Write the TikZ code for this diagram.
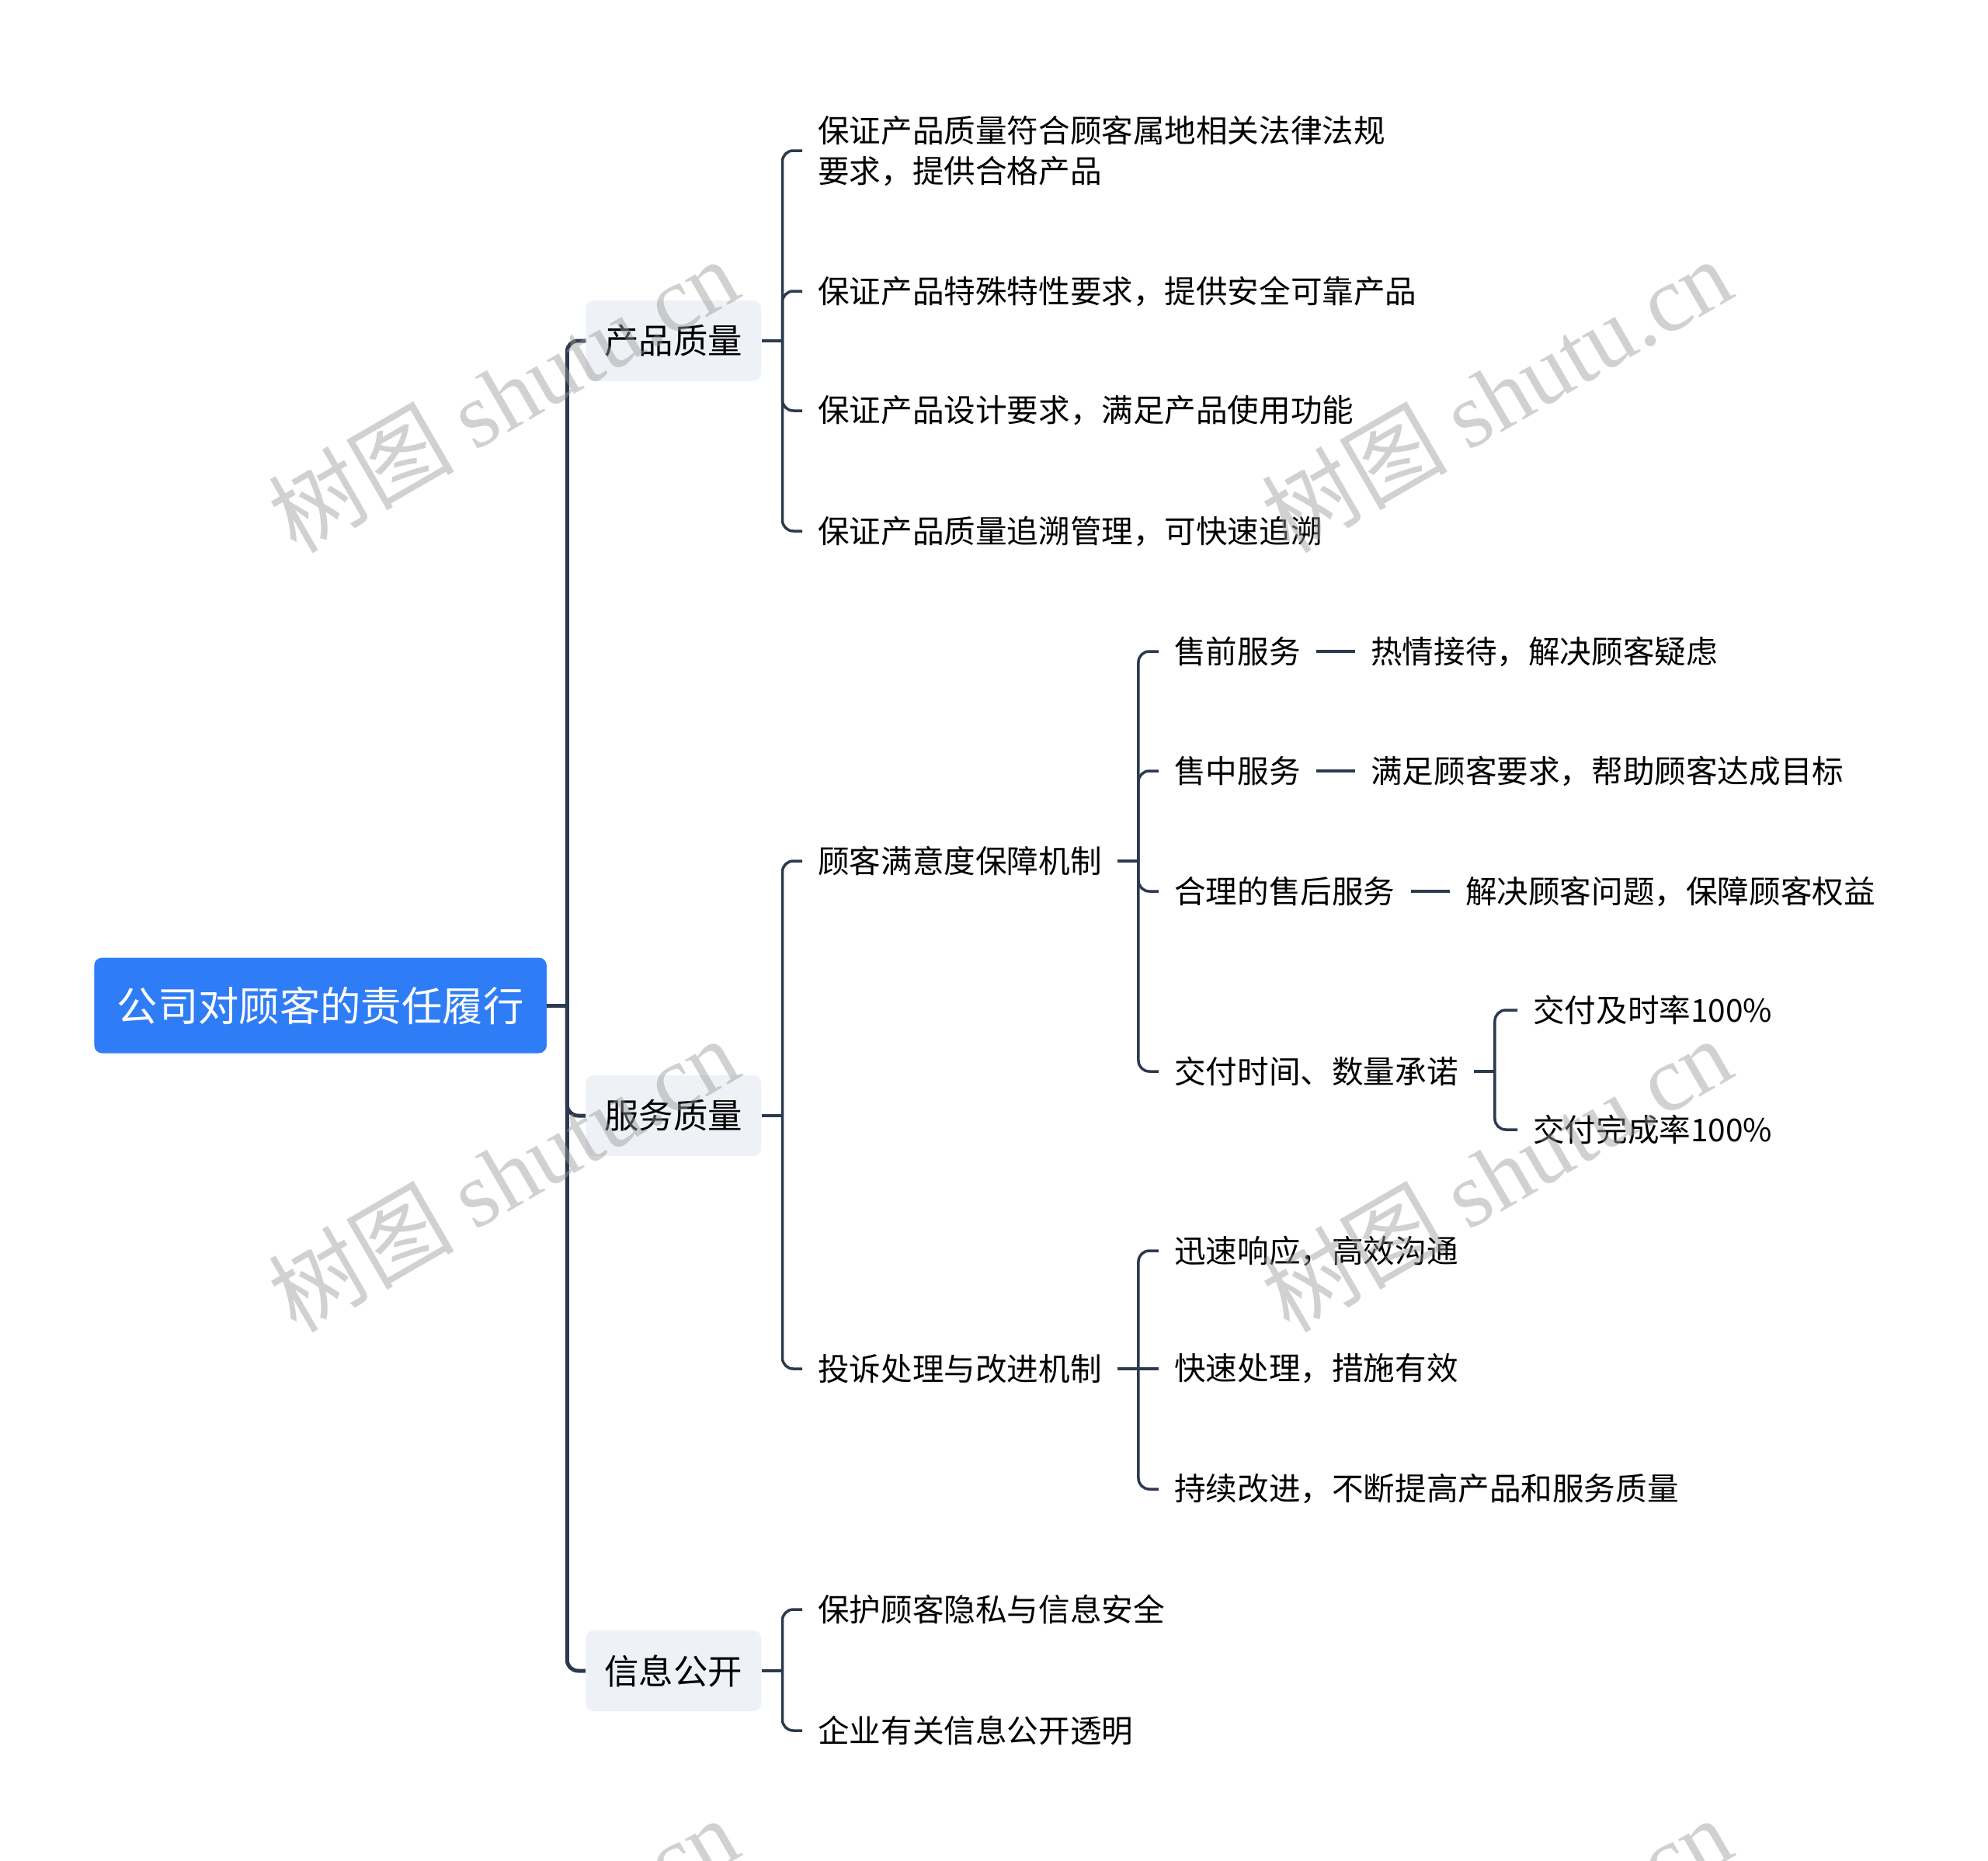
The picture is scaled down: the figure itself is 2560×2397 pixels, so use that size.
\documentclass[tikz,border=0pt]{standalone}
\usepackage{fontspec}
\setmainfont{Noto Sans CJK SC}
\newfontfamily\wmserif{Liberation Serif}
\usetikzlibrary{positioning}
\definecolor{rootblue}{HTML}{2F7DF6}
\definecolor{topicgray}{HTML}{EEF1F6}
\definecolor{linkslate}{HTML}{2C3A4F}

\begin{document}
\begin{tikzpicture}[x=0.02cm,y=-0.02cm,
  root/.style={fill=rootblue,text=white,rounded corners=0.2cm,inner xsep=0.59cm,minimum height=2.46cm,font=\fontsize{29.8}{36}\selectfont},
  topic/.style={fill=topicgray,rounded corners=0.2cm,inner xsep=0.48cm,minimum height=2.08cm,font=\fontsize{25.3}{30}\selectfont},
  leaf/.style={anchor=west,inner xsep=0.4cm,inner ysep=0.1cm,align=left,font=\fontsize{23.1}{29.6}\selectfont},
  trunk/.style={draw=linkslate,line width=0.1cm},
  link/.style={draw=linkslate,line width=0.07cm},
  wm/.style={rotate=30,text=black!40,opacity=0.45,font=\fontsize{68}{68}\selectfont}]
\useasboundingbox (0,0) rectangle (2560,2397);
% root and main topics
\node[root,anchor=west] (root) at (121,1295) {公司对顾客的责任履行};
\node[topic,anchor=west] (pq) at (754,439) {产品质量};
\node[topic,anchor=west] (fw) at (754,1437) {服务质量};
\node[topic,anchor=west] (xx) at (754,2152) {信息公开};
% 产品质量
\node[leaf] (pq1) at (1033,194) {保证产品质量符合顾客属地相关法律法规\\要求，提供合格产品};
\node[leaf] (pq2) at (1033,375) {保证产品特殊特性要求，提供安全可靠产品};
\node[leaf] (pq3) at (1033,529) {保证产品设计要求，满足产品使用功能};
\node[leaf] (pq4) at (1033,684) {保证产品质量追溯管理，可快速追溯};
% 服务质量
\node[leaf] (fw1) at (1033,1109) {顾客满意度保障机制};
\node[leaf] (fw2) at (1033,1763) {投诉处理与改进机制};
\node[leaf] (my1) at (1492,839) {售前服务};
\node[leaf] (my2) at (1492,993) {售中服务};
\node[leaf] (my3) at (1492,1148) {合理的售后服务};
\node[leaf] (my4) at (1492,1380) {交付时间、数量承诺};
\node[leaf,right=1cm of my1] (my1b) {热情接待，解决顾客疑虑};
\node[leaf,right=1cm of my2] (my2b) {满足顾客要求，帮助顾客达成目标};
\node[leaf,right=1cm of my3] (my3b) {解决顾客问题，保障顾客权益};
\node[leaf] (jf1) at (1954,1301) {交付及时率100\%};
\node[leaf] (jf2) at (1954,1455) {交付完成率100\%};
\node[leaf] (ts1) at (1492,1611) {迅速响应，高效沟通};
\node[leaf] (ts2) at (1492,1763) {快速处理，措施有效};
\node[leaf] (ts3) at (1492,1918) {持续改进，不断提高产品和服务质量};
% 信息公开
\node[leaf] (xx1) at (1033,2073) {保护顾客隐私与信息安全};
\node[leaf] (xx2) at (1033,2229) {企业有关信息公开透明};

% connectors
\draw[trunk] (root.east) -- ++(26,0) coordinate (rj);
\foreach \t in {pq,fw,xx} \draw[trunk,rounded corners=0.28cm] (rj) |- (\t.west);
\draw[link] (pq.east) -- ++(27,0) coordinate (pqj);
\foreach \c in {pq1,pq2,pq3,pq4} \draw[link,rounded corners=0.28cm] (pqj) |- (\c.west);
\draw[link] (fw.east) -- ++(27,0) coordinate (fwj);
\foreach \c in {fw1,fw2} \draw[link,rounded corners=0.28cm] (fwj) |- (\c.west);
\draw[link] (fw1.east) -- ++(27,0) coordinate (myj);
\foreach \c in {my1,my2,my3,my4} \draw[link,rounded corners=0.28cm] (myj) |- (\c.west);
\foreach \a/\b in {my1/my1b,my2/my2b,my3/my3b} \draw[link] (\a.east) -- (\b.west);
\draw[link] (my4.east) -- ++(27,0) coordinate (jfj);
\foreach \c in {jf1,jf2} \draw[link,rounded corners=0.28cm] (jfj) |- (\c.west);
\draw[link] (fw2.east) -- ++(27,0) coordinate (tsj);
\foreach \c in {ts1,ts3} \draw[link,rounded corners=0.28cm] (tsj) |- (\c.west);
\draw[link] (tsj) -- (ts2.west);
\draw[link] (xx.east) -- ++(27,0) coordinate (xxj);
\foreach \c in {xx1,xx2} \draw[link,rounded corners=0.28cm] (xxj) |- (\c.west);

% watermark
\foreach \wx in {648,1927} \foreach \wy in {508,1512,2516}
  \node[wm] (wm-\wx-\wy) at (\wx,\wy) {树图 {\wmserif shutu.cn}};
\end{tikzpicture}
\end{document}
